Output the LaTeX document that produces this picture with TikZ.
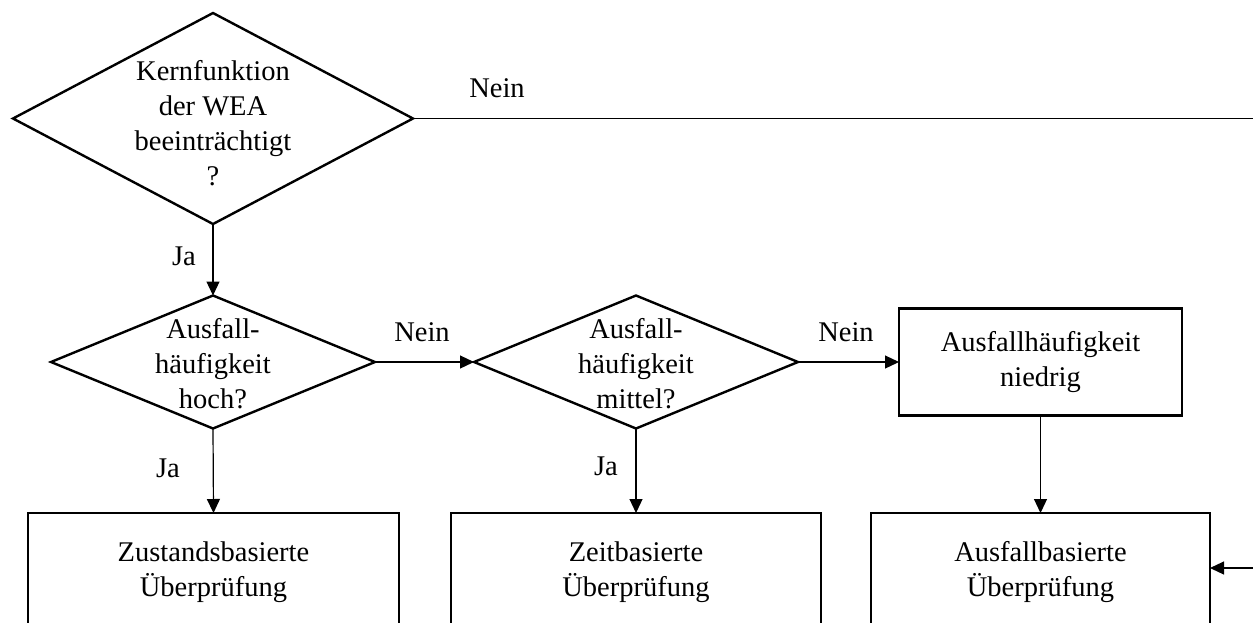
\documentclass[tikz,border=0pt]{standalone}
\usepackage{fontspec}
\setmainfont{Liberation Serif}
\usetikzlibrary{shapes.geometric,arrows.meta}
\begin{document}
\begin{tikzpicture}[x=1pt,y=-1pt,
  every node/.style={font=\fontsize{28.5}{35}\selectfont},
  decision/.style={diamond,draw,line width=2.4pt,inner sep=0pt,outer sep=0pt},
  txt/.style={align=center,inner sep=0pt},
  box/.style={rectangle,draw,line width=2.4pt,align=center,inner sep=0pt,outer sep=0pt},
  flow/.style={line width=1.2pt,-{Triangle[length=14pt,width=13pt]}},
  lbl/.style={inner sep=0pt}]
\useasboundingbox (0,0) rectangle (1253,622);
\clip (0,0) rectangle (1253,622);

% decisions
\node[decision,minimum width=400pt,minimum height=211pt] (d1) at (213,118.5) {};
\node[txt] (t1) at (213,123) {Kernfunktion\\der WEA\\beeinträchtigt\\?};
\node[decision,minimum width=324pt,minimum height=133pt] (d2) at (213,362) {};
\node[txt] (t2) at (213,364) {Ausfall-\\häufigkeit\\hoch?};
\node[decision,minimum width=324pt,minimum height=133pt] (d3) at (636,362) {};
\node[txt] (t3) at (636,364) {Ausfall-\\häufigkeit\\mittel?};

% boxes
\node[box,minimum width=283pt,minimum height=107pt] (nb) at (1040.5,362) {Ausfallhäufigkeit\\niedrig};
\node[box,minimum width=371pt,minimum height=118pt] (b1) at (213.5,572) {Zustandsbasierte\\Überprüfung};
\node[box,minimum width=370pt,minimum height=118pt] (b2) at (636,572) {Zeitbasierte\\Überprüfung};
\node[box,minimum width=339pt,minimum height=118pt] (b3) at (1040.5,572) {Ausfallbasierte\\Überprüfung};

% connectors
\coordinate (rt) at (1300,118.5);
\draw[flow] (d1.south) -- (d2.north);
\draw[flow] (d2.east) -- (d3.west);
\draw[flow] (d3.east) -- (nb.west);
\draw[flow] (d2.south) -- (b1.north);
\draw[flow] (d3.south) -- (b2.north);
\draw[flow] (nb.south) -- (b3.north);
\draw[flow] (d1.east) -- (rt) |- ([yshift=4pt]b3.east);

% labels
\node[lbl] (l1) at (497,88) {Nein};
\node[lbl] (l2) at (184,256) {Ja};
\node[lbl] (l3) at (422,332) {Nein};
\node[lbl] (l4) at (846,332) {Nein};
\node[lbl] (l5) at (168,468) {Ja};
\node[lbl] (l6) at (606,466) {Ja};
\end{tikzpicture}
\end{document}
